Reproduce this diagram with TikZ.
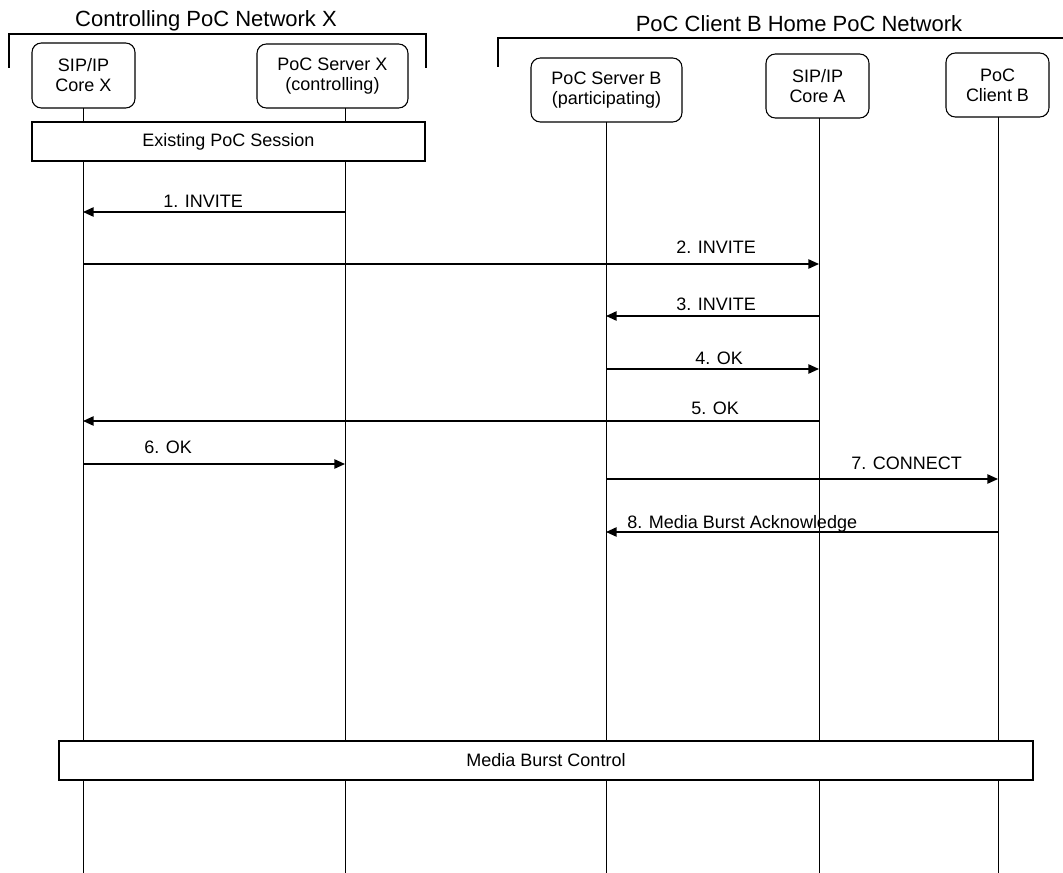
\documentclass[tikz,border=0pt]{standalone}
\usepackage{fontspec}
\setmainfont{Liberation Sans}
\usetikzlibrary{arrows.meta}
\begin{document}
\begin{tikzpicture}[x=0.75pt,y=-0.75pt,
  ent/.style={draw, line width=0.8pt, rounded corners=7pt, fill=white, inner sep=0pt, align=center, font=\fontsize{13.5}{15}\selectfont, minimum height=48pt},
  bar/.style={draw, line width=0.9pt, fill=white, inner sep=0pt, font=\fontsize{13.5}{15}\selectfont, minimum height=29.25pt},
  life/.style={line width=0.7pt},
  msg/.style={line width=1.2pt, -{Triangle[length=8pt,width=7pt]}},
  lbl/.style={anchor=base west, inner sep=0pt, font=\fontsize{13.5}{15}\selectfont},
  ttl/.style={anchor=base, inner sep=0pt, font=\fontsize{16.5}{18}\selectfont},
  brk/.style={line width=0.8pt}]
\useasboundingbox[fill=white] (0,0) rectangle (1063,873);

% network titles and brackets
\node[ttl] (t1) at (206,27) {Controlling PoC Network X};
\node[ttl] (t2) at (799,32) {PoC Client B Home PoC Network};
\coordinate (k1) at (9,68);
\coordinate (k2) at (9,34);
\coordinate (k3) at (426,34);
\coordinate (k4) at (426,68);
\draw[brk] (k1) -- (k2) -- (k3) -- (k4);
\coordinate (k5) at (498,67);
\coordinate (k6) at (498,38);
\coordinate (k7) at (1063,38);
\draw[brk] (k5) -- (k6) -- (k7);

% lifelines
\coordinate (a1) at (83,108);  \coordinate (b1) at (83,873);
\coordinate (a2) at (345,108); \coordinate (b2) at (345,873);
\coordinate (a3) at (606,122); \coordinate (b3) at (606,873);
\coordinate (a4) at (819,118); \coordinate (b4) at (819,873);
\coordinate (a5) at (998,117); \coordinate (b5) at (998,873);
\foreach \i in {1,...,5} \draw[life] (a\i) -- (b\i);

% bars
\node[bar, minimum width=294.75pt] (exist) at (228.5,141.5) {Existing PoC Session};
\node[bar, minimum width=730.5pt] (mbc) at (546,760.5) {Media Burst Control};

% entities
\node[ent, minimum width=77.25pt, minimum height=48.75pt] (cx) at (83.5,75.5) {SIP/IP\\Core X};
\node[ent, minimum width=113.25pt] (sx) at (332.5,76) {PoC Server X\\(controlling)};
\node[ent, minimum width=113.25pt] (sb) at (606.5,90) {PoC Server B\\(participating)};
\node[ent, minimum width=77.25pt] (ca) at (817.5,86) {SIP/IP\\Core A};
\node[ent, minimum width=77.25pt] (cb) at (997.5,85) {PoC\\Client B};

% messages
\coordinate (m1s) at (345,212); \coordinate (m1e) at (83,212);
\coordinate (m2s) at (83,264);  \coordinate (m2e) at (819,264);
\coordinate (m3s) at (819,316); \coordinate (m3e) at (606,316);
\coordinate (m4s) at (606,369); \coordinate (m4e) at (819,369);
\coordinate (m5s) at (819,421); \coordinate (m5e) at (83,421);
\coordinate (m6s) at (83,464);  \coordinate (m6e) at (345,464);
\coordinate (m7s) at (606,479); \coordinate (m7e) at (998,479);
\coordinate (m8s) at (998,532); \coordinate (m8e) at (606,532);
\foreach \i in {1,...,8} \draw[msg] (m\i s) -- (m\i e);

\node[lbl] (l1) at (163,207.5) {1. INVITE};
\node[lbl] (l2) at (676,253.5) {2. INVITE};
\node[lbl] (l3) at (676,310.5) {3. INVITE};
\node[lbl] (l4) at (695,364.5) {4. OK};
\node[lbl] (l5) at (691,414.5) {5. OK};
\node[lbl] (l6) at (144,453.5) {6. OK};
\node[lbl] (l7) at (851,469.5) {7. CONNECT};
\node[lbl] (l8) at (627,528) {8. Media Burst Acknowledge};
\end{tikzpicture}
\end{document}
